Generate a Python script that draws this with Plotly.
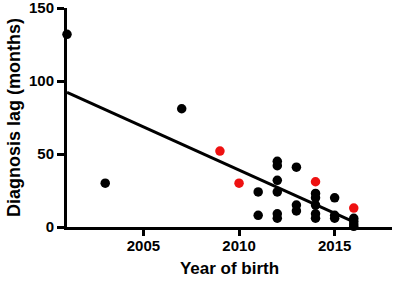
import numpy as np
import plotly.graph_objects as go

# Black points: year of birth and diagnosis lag (months)
black_year = [2001, 2003, 2007,
              2011, 2011,
              2012, 2012, 2012, 2012, 2012, 2012,
              2013, 2013, 2013,
              2014, 2014, 2014, 2014, 2014,
              2015, 2015, 2015,
              2016, 2016, 2016, 2016]
black_lag = [132, 30, 81,
             24, 8,
             45, 42, 32, 24, 9, 6,
             41, 15, 11,
             23, 20, 15, 9, 6,
             20, 8, 6,
             6, 4, 2, 0.5]

# Red points
red_year = [2009, 2010, 2014, 2016]
red_lag = [52, 30, 31, 13]

x_ticks = [2005, 2010, 2015]
y_ticks = [0, 50, 100, 150]

all_x = np.array(black_year + red_year, dtype=float)
all_y = np.array(black_lag + red_lag, dtype=float)
slope, intercept = np.polyfit(all_x, all_y, 1)
fit_x = np.array([min(all_x), max(all_x)])
fit_y = slope * fit_x + intercept

FONT = "Liberation Sans, Arial, sans-serif"

fig = go.Figure()
fig.add_trace(go.Scatter(x=fit_x, y=fit_y, mode="lines",
                         line=dict(color="black", width=3), showlegend=False,
                         cliponaxis=False))
fig.add_trace(go.Scatter(x=black_year, y=black_lag, mode="markers",
                         marker=dict(color="black", size=9.5), showlegend=False,
                         cliponaxis=False))
fig.add_trace(go.Scatter(x=red_year, y=red_lag, mode="markers",
                         marker=dict(color="#ee1111", size=9.5), showlegend=False,
                         cliponaxis=False))

fig.update_layout(
    width=400, height=285,
    margin=dict(l=67, r=8, t=8, b=58, autoexpand=False),
    paper_bgcolor="white", plot_bgcolor="white",
    font=dict(family=FONT, color="black"),
)
fig.update_xaxes(
    range=[2001, 2018], tickvals=x_ticks, ticktext=["<b>%d</b>" % v for v in x_ticks],
    showgrid=False, zeroline=False, showline=True, linecolor="black", linewidth=3,
    ticks="outside", ticklen=6, tickwidth=3, tickcolor="black",
    tickfont=dict(size=15, family=FONT, weight=700), ticklabelstandoff=-3,
    automargin=False, ticklabeloverflow="allow",
    title=dict(text="<b>Year of birth</b>", font=dict(size=17, family=FONT), standoff=10),
)
fig.update_yaxes(
    range=[0, 150], tickvals=y_ticks, ticktext=["<b>%d</b>" % v for v in y_ticks],
    showgrid=False, zeroline=False, showline=True, linecolor="black", linewidth=3,
    ticks="outside", ticklen=7, tickwidth=3, tickcolor="black",
    tickfont=dict(size=15, family=FONT, weight=700),
    automargin=False, ticklabeloverflow="allow",
    title=dict(text="<b>Diagnosis lag (months)</b>", font=dict(size=18, family=FONT), standoff=4),
)

fig.write_html("out.html", config={"displayModeBar": False},
               post_script="document.body.style.margin='0';")
